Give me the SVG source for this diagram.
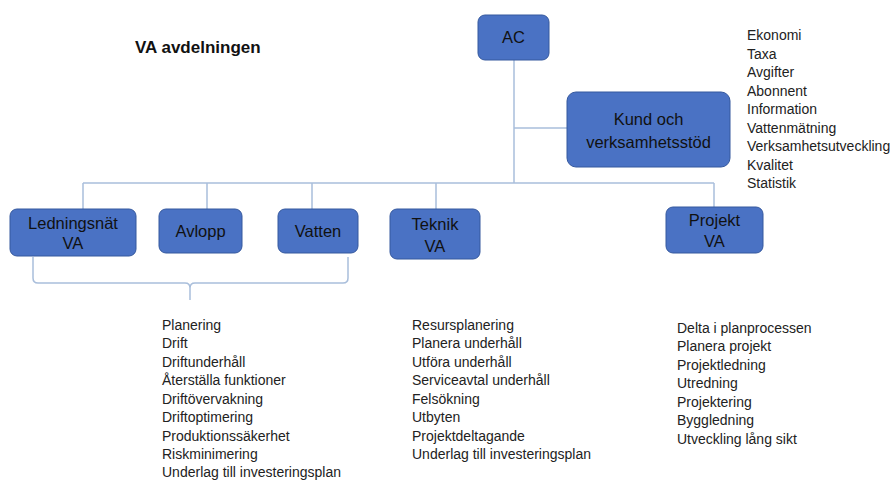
<svg xmlns="http://www.w3.org/2000/svg" width="894" height="480" viewBox="0 0 894 480">
<style>
.box{fill:#4a72c4;stroke:#34589e;stroke-width:1}
.bt{font-family:"Liberation Sans",Arial,sans-serif;font-size:16.5px;fill:#111;text-anchor:middle}
.li{font-family:"Liberation Sans",Arial,sans-serif;font-size:14px;fill:#222}
.ln{fill:none;stroke:#a9bedb;stroke-width:1.5}
.title{font-family:"Liberation Sans",Arial,sans-serif;font-size:17px;font-weight:bold;fill:#111}
</style>
<rect width="894" height="480" fill="#fff"/>
<text class="title" x="135" y="53">VA avdelningen</text>
<g id="connectors">
<path class="ln" d="M514 60 V183"/>
<path class="ln" d="M514 128 H567"/>
<path class="ln" d="M83 183 H714"/>
<path class="ln" d="M83 183 V209 M207 183 V209 M312 183 V209 M436 183 V209 M714 183 V207"/>
<path class="ln" d="M33 257 V278 Q33 283 38 283 H185 Q190 283 190 288 V300 M190 288 Q190 283 195 283 H343 Q348 283 348 278 V257"/>
</g>
<g id="ac"><rect class="box" x="478" y="15" width="71" height="45" rx="7"/><text class="bt" x="513.5" y="43">AC</text></g>
<g id="kund"><rect class="box" x="567" y="92" width="163" height="75" rx="9"/><text class="bt" x="648.5" y="125">Kund och</text><text class="bt" x="648.5" y="148">verksamhetsstöd</text></g>
<g id="ledningsnat"><rect class="box" x="10" y="209" width="126" height="47" rx="7"/><text class="bt" x="73" y="229">Ledningsnät</text><text class="bt" x="73" y="249">VA</text></g>
<g id="avlopp"><rect class="box" x="159" y="209" width="83" height="44" rx="7"/><text class="bt" x="200.5" y="237">Avlopp</text></g>
<g id="vatten"><rect class="box" x="278" y="209" width="80" height="44" rx="7"/><text class="bt" x="318" y="237">Vatten</text></g>
<g id="teknik"><rect class="box" x="390" y="209" width="90" height="50" rx="7"/><text class="bt" x="435" y="230">Teknik</text><text class="bt" x="435" y="252">VA</text></g>
<g id="projekt"><rect class="box" x="666" y="207" width="97" height="46" rx="7"/><text class="bt" x="714.5" y="226">Projekt</text><text class="bt" x="714.5" y="247">VA</text></g>
<g id="list-kund" class="li">
<text x="747" y="40">Ekonomi</text>
<text x="747" y="58.5">Taxa</text>
<text x="747" y="77">Avgifter</text>
<text x="747" y="95.5">Abonnent</text>
<text x="747" y="114">Information</text>
<text x="747" y="132.5">Vattenmätning</text>
<text x="747" y="151">Verksamhetsutveckling</text>
<text x="747" y="169.5">Kvalitet</text>
<text x="747" y="188">Statistik</text>
</g>
<g id="list-drift" class="li">
<text x="162" y="329.5">Planering</text>
<text x="162" y="348">Drift</text>
<text x="162" y="366.5">Driftunderhåll</text>
<text x="162" y="385">Återställa funktioner</text>
<text x="162" y="403.5">Driftövervakning</text>
<text x="162" y="422">Driftoptimering</text>
<text x="162" y="440.5">Produktionssäkerhet</text>
<text x="162" y="459">Riskminimering</text>
<text x="162" y="477">Underlag till investeringsplan</text>
</g>
<g id="list-teknik" class="li">
<text x="412" y="329.5">Resursplanering</text>
<text x="412" y="348">Planera underhåll</text>
<text x="412" y="366.5">Utföra underhåll</text>
<text x="412" y="385">Serviceavtal underhåll</text>
<text x="412" y="403.5">Felsökning</text>
<text x="412" y="422">Utbyten</text>
<text x="412" y="440.5">Projektdeltagande</text>
<text x="412" y="459">Underlag till investeringsplan</text>
</g>
<g id="list-projekt" class="li">
<text x="677" y="332.5">Delta i planprocessen</text>
<text x="677" y="351">Planera projekt</text>
<text x="677" y="369.5">Projektledning</text>
<text x="677" y="388">Utredning</text>
<text x="677" y="406.5">Projektering</text>
<text x="677" y="425">Byggledning</text>
<text x="677" y="443.5">Utveckling lång sikt</text>
</g>
</svg>
